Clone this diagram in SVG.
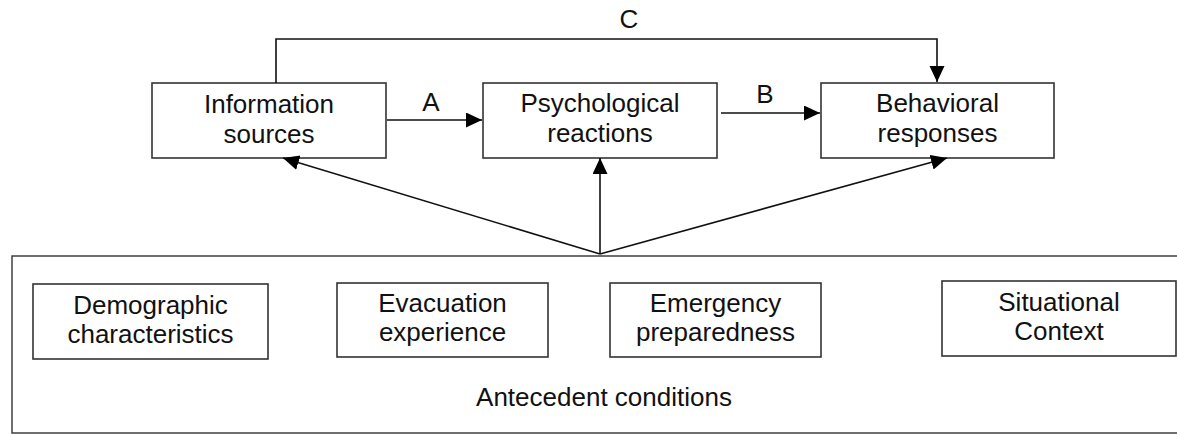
<svg xmlns="http://www.w3.org/2000/svg" width="1177" height="434" viewBox="0 0 1177 434">
<style>
.box{fill:#fff;stroke:#333;stroke-width:1.6}
.frame{fill:#fff;stroke:#333;stroke-width:1.4}
.t{font-family:"Liberation Sans",Arial,sans-serif;font-size:26px;fill:#111;text-anchor:middle}
.c{fill:none;stroke:#111;stroke-width:1.6}
</style>
<defs>
<marker id="ah" markerUnits="userSpaceOnUse" markerWidth="17" markerHeight="16" refX="16" refY="7.5" orient="auto">
<path d="M0,0 L16,7.5 L0,15 z" fill="#000"/>
</marker>
</defs>
<rect width="1177" height="434" fill="#fff"/>
<g id="antecedent">
<rect class="frame" x="12" y="256" width="1185" height="177"/>
<text class="t" x="604" y="406">Antecedent conditions</text>
</g>
<g id="information">
<rect class="box" x="152" y="83" width="234" height="75"/>
<text class="t" x="269" y="113">Information</text>
<text class="t" x="269" y="143">sources</text>
</g>
<g id="psychological">
<rect class="box" x="483" y="83" width="234" height="75"/>
<text class="t" x="600" y="112">Psychological</text>
<text class="t" x="600" y="142">reactions</text>
</g>
<g id="behavioral">
<rect class="box" x="821" y="83" width="233" height="75"/>
<text class="t" x="937.5" y="112">Behavioral</text>
<text class="t" x="937.5" y="142">responses</text>
</g>
<g id="demographic">
<rect class="box" x="33" y="284" width="235" height="75"/>
<text class="t" x="150.5" y="314">Demographic</text>
<text class="t" x="150.5" y="343">characteristics</text>
</g>
<g id="evacuation">
<rect class="box" x="337" y="283" width="211" height="74"/>
<text class="t" x="442.5" y="312">Evacuation</text>
<text class="t" x="442.5" y="341">experience</text>
</g>
<g id="emergency">
<rect class="box" x="610" y="283" width="211" height="74"/>
<text class="t" x="715.5" y="312">Emergency</text>
<text class="t" x="715.5" y="341">preparedness</text>
</g>
<g id="situational">
<rect class="box" x="942" y="281" width="234" height="75"/>
<text class="t" x="1059" y="311">Situational</text>
<text class="t" x="1059" y="340">Context</text>
</g>
<g id="connectors">
<line class="c" x1="387" y1="120" x2="482" y2="120" marker-end="url(#ah)"/>
<line class="c" x1="721" y1="113" x2="820" y2="113" marker-end="url(#ah)"/>
<path class="c" d="M276,83 V39 H937 V82" marker-end="url(#ah)"/>
<line class="c" x1="600" y1="254" x2="283" y2="158" marker-end="url(#ah)"/>
<line class="c" x1="600" y1="254" x2="600" y2="158" marker-end="url(#ah)"/>
<line class="c" x1="600" y1="254" x2="947" y2="158" marker-end="url(#ah)"/>
<text class="t" x="431" y="111">A</text>
<text class="t" x="765" y="103">B</text>
<text class="t" x="629" y="28">C</text>
</g>
</svg>
